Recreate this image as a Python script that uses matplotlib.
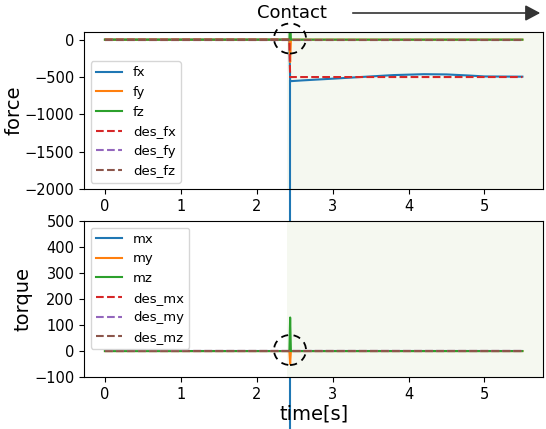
import matplotlib
matplotlib.use("Agg")
import matplotlib.pyplot as plt
from matplotlib.patches import Ellipse, FancyArrowPatch

# sample times [s]
t = [0.0, 2.43, 2.44, 2.45, 2.6, 3.0, 3.5, 3.8, 4.2, 4.5, 4.8, 5.0, 5.5]

# measured / desired force
fx = [0, 0, -555, -555, -545, -522, -492, -474, -462, -465, -480, -492, -495]
fy = [0, 0, -300, 0, 0, 0, 0, 0, 0, 0, 0, 0, 0]
fz = [0, 0, 300, 0, 0, 0, 0, 0, 0, 0, 0, 0, 0]
des_fx = [0, 0, -500, -500, -500, -500, -500, -500, -500, -500, -500, -500, -500]
des_fy = [0] * len(t)
des_fz = [0] * len(t)

# measured / desired torque
mx = [0] * len(t)
my = [0, 0, -50, 0, 0, 0, 0, 0, 0, 0, 0, 0, 0]
mz = [0, 0, 129, 0, 0, 0, 0, 0, 0, 0, 0, 0, 0]
des_mx = [0] * len(t)
des_my = [0] * len(t)
des_mz = [0] * len(t)

t_contact = 2.44
shade_start = 2.40

fig = plt.figure(figsize=(5.46, 4.29), dpi=100)
ax1 = fig.add_axes([0.154, 0.559, 0.841, 0.366])
ax2 = fig.add_axes([0.154, 0.121, 0.841, 0.364])

shade = "#f5f8f0"
for ax in (ax1, ax2):
    ax.axvspan(shade_start, 5.775, color=shade, lw=0, zorder=0)

ax1.plot(t, fx, label="fx")
ax1.plot(t, fy, label="fy")
ax1.plot(t, fz, label="fz")
ax1.plot(t, des_fx, "--", label="des_fx")
ax1.plot(t, des_fy, "--", label="des_fy")
ax1.plot(t, des_fz, "--", label="des_fz")
# contact marker carried down through the figure (hidden behind lower axes)
ax1.plot([t_contact, t_contact], [fx[2], -6000], color="C0", lw=1.5, clip_on=False)
ax1.set_xlim(-0.275, 5.775)
ax1.set_ylim(-2000, 100)
ax1.set_yticks([0, -500, -1000, -1500, -2000])
ax1.set_ylabel("force", fontsize=14, labelpad=1)
ax1.legend(loc="lower left", fontsize=9.5, labelspacing=0.5)

ax2.plot(t, mx, label="mx")
ax2.plot(t, my, label="my")
ax2.plot(t, mz, label="mz")
ax2.plot(t, des_mx, "--", label="des_mx")
ax2.plot(t, des_my, "--", label="des_my")
ax2.plot(t, des_mz, "--", label="des_mz")
ax2.set_xlim(-0.275, 5.775)
ax2.set_ylim(-100, 500)
ax2.set_yticks(range(-100, 600, 100))
ax2.set_ylabel("torque", fontsize=14, labelpad=1)
ax2.set_xlabel("time[s]", fontsize=14, labelpad=2)
ax2.legend(loc="upper left", fontsize=9.5, labelspacing=0.5)

for ax in (ax1, ax2):
    ax.tick_params(labelsize=10.5)

# contact annotations
fig.text(292 / 546, 1 - 13 / 429, "Contact", fontsize=13, ha="center", va="center")
arrow = FancyArrowPatch((350 / 546, 1 - 13 / 429), (543 / 546, 1 - 13 / 429),
                        transform=fig.transFigure, arrowstyle="-|>,head_length=0.75,head_width=0.4",
                        mutation_scale=12, color="#333333", lw=1.2)
fig.patches.append(arrow)
for cx, cy in [(290, 38.5), (290, 350)]:
    fig.patches.append(Ellipse((cx / 546, 1 - cy / 429), 32 / 546, 30 / 429,
                               transform=fig.transFigure, fill=False,
                               ls=(0, (4, 3)), lw=1.3, color="black", zorder=10))

fig.savefig("out.png", dpi=100)
